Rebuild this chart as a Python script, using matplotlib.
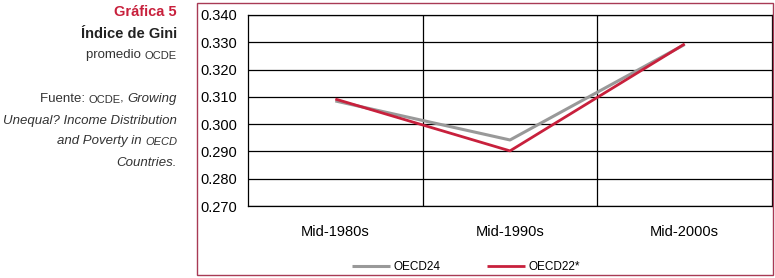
import matplotlib
matplotlib.use("Agg")
import matplotlib.pyplot as plt
from matplotlib.patches import Rectangle
from matplotlib.text import Annotation

plt.rcParams["font.family"] = ["Liberation Sans", "DejaVu Sans"]

# data
periods = ["Mid-1980s", "Mid-1990s", "Mid-2000s"]
oecd24 = [0.3085, 0.2942, 0.3292]
oecd22 = [0.3092, 0.2902, 0.3294]
yticks = [0.270, 0.280, 0.290, 0.300, 0.310, 0.320, 0.330, 0.340]

RED = "#c8203c"
FRAME = "#a83a55"
GRAY = "#999999"
TXT = "#333333"

W, H = 775, 278
fig = plt.figure(figsize=(W / 100, H / 100), dpi=100)

# outer frame around the chart
fig.patches.append(Rectangle((197 / W, 1 - 275 / H), (773 - 197) / W, (275 - 3) / H,
                             transform=fig.transFigure, fill=False, edgecolor=FRAME, lw=1.0))

ax = fig.add_axes([248 / W, 1 - 206 / H, (772 - 248) / W, (206 - 15) / H])
x = [0.5, 1.5, 2.5]
ax.plot(x, oecd24, color=GRAY, lw=2.2, label="OECD24", solid_capstyle="butt")
ax.plot(x, oecd22, color=RED, lw=2.0, label="OECD22*", solid_capstyle="butt")

ax.set_xlim(0, 3)
ax.set_ylim(0.270, 0.340)
ax.set_yticks(yticks)
ax.set_yticklabels([f"{v:.3f}" for v in yticks], fontsize=10.5)
ax.set_xticks(x)
ax.set_xticklabels(periods, fontsize=10.5)
ax.tick_params(length=0, pad=8)
ax.tick_params(axis="x", pad=14)
for v in yticks:
    ax.axhline(v, color="black", lw=0.9, zorder=0)
for v in [1, 2]:
    ax.axvline(v, color="black", lw=0.9, zorder=0)
for s in ax.spines.values():
    s.set_color("black")
    s.set_linewidth(0.9)

fig.legend(loc="center", bbox_to_anchor=(466 / W, 1 - 267 / H), ncol=2, frameon=False,
           fontsize=8.5, handlelength=3.2, handletextpad=0.3, columnspacing=4)

# side text block, right aligned
xr = 177 / W
fig.text(xr, 1 - 12 / H, "Gráfica 5", ha="right", va="center", color=RED,
         fontsize=10.5, fontweight="bold")
fig.text(xr, 1 - 34 / H, "Índice de Gini", ha="right", va="center", color="#222222",
         fontsize=10.5, fontweight="bold")


def row(y, parts):
    # draw right to left; each piece ends where the next one starts
    anchor = None
    prev_size = None
    for txt, style, size in reversed(parts):
        if anchor is None:
            anchor = fig.text(xr, 1 - y / H, txt, ha="right", va="baseline",
                              style=style, fontsize=size, color=TXT)
        else:
            # keep baselines level when the size changes (descent ~0.21 em)
            dy = 0.21 * (size - prev_size)
            anchor = fig.add_artist(Annotation(
                txt, xy=(0, 0), xycoords=anchor, xytext=(0, -dy),
                textcoords="offset points", ha="right", va="bottom",
                style=style, fontsize=size, color=TXT))
        prev_size = size


row(59, [("promedio ", "normal", 9.5), ("OCDE", "normal", 8)])
row(102, [("Fuente: ", "normal", 9.5), ("OCDE", "normal", 8), (", ", "normal", 9.5),
          ("Growing", "italic", 9.5)])
row(124, [("Unequal? Income Distribution", "italic", 9.5)])
row(145, [("and Poverty in ", "italic", 9.5), ("OECD", "italic", 8)])
row(166, [("Countries.", "italic", 9.5)])

fig.savefig("out.png", dpi=100)
